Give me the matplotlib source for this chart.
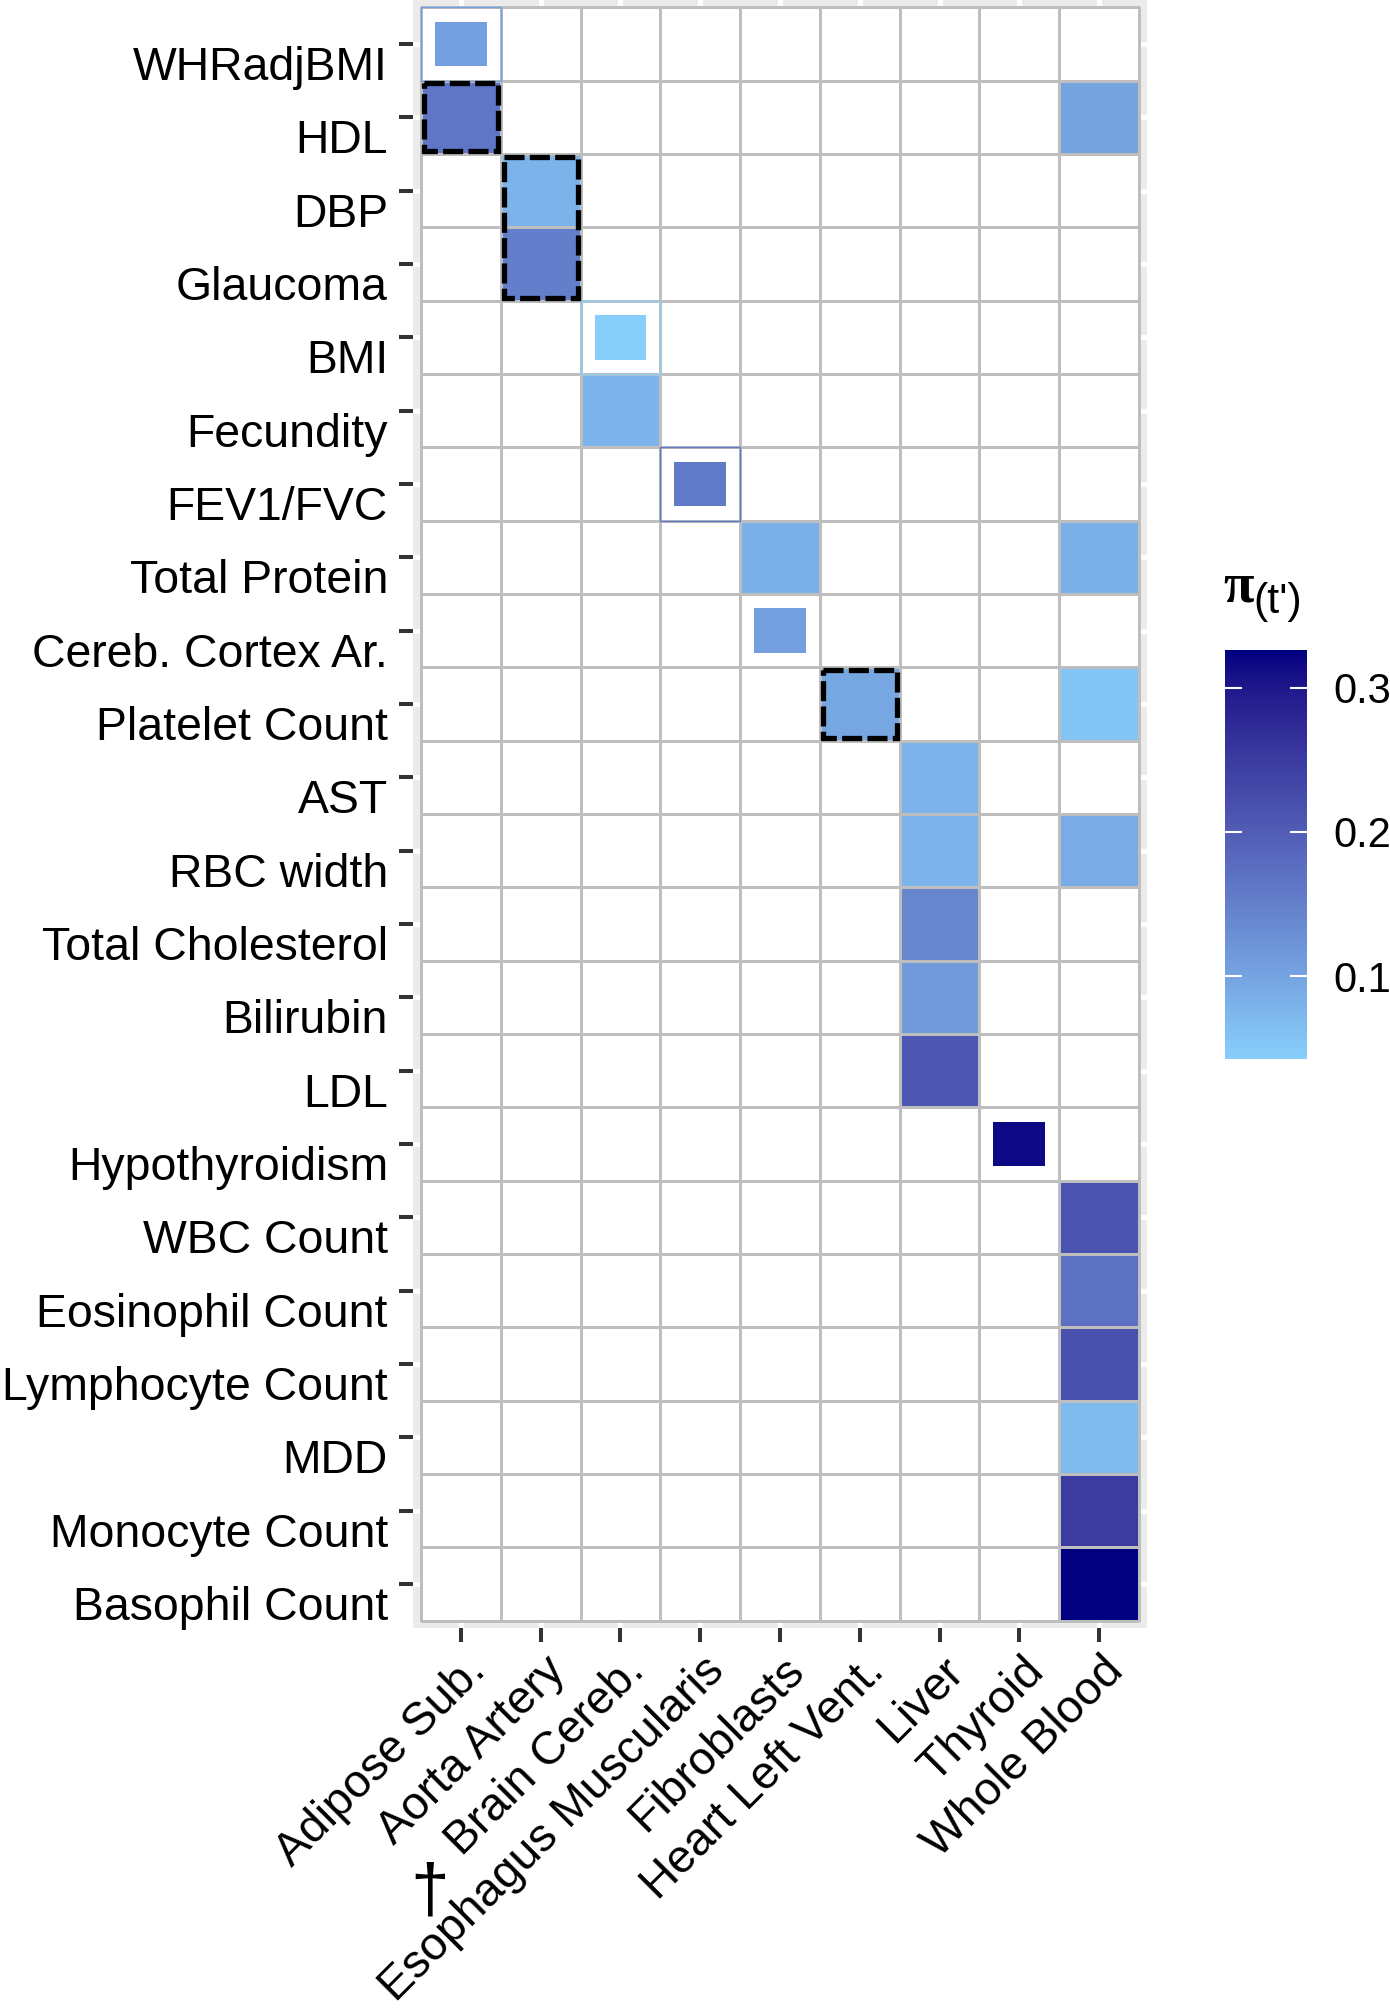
import numpy as np
import matplotlib
matplotlib.use("Agg")
import matplotlib.pyplot as plt
from matplotlib.colors import to_rgb, LinearSegmentedColormap, Normalize
from matplotlib.patches import Rectangle
from matplotlib.transforms import ScaledTranslation
import matplotlib.cm as cm

plt.rcParams['font.family'] = ['Liberation Sans', 'DejaVu Sans']

# rows (top to bottom) and columns
traits = ["WHRadjBMI", "HDL", "DBP", "Glaucoma", "BMI", "Fecundity", "FEV1/FVC",
          "Total Protein", "Cereb. Cortex Ar.", "Platelet Count", "AST", "RBC width",
          "Total Cholesterol", "Bilirubin", "LDL", "Hypothyroidism", "WBC Count",
          "Eosinophil Count", "Lymphocyte Count", "MDD", "Monocyte Count", "Basophil Count"]
tissues = ["Adipose Sub.", "Aorta Artery", "Brain Cereb.", "Esophagus Muscularis",
           "Fibroblasts", "Heart Left Vent.", "Liver", "Thyroid", "Whole Blood"]

# full tiles
tile_trait = ["HDL", "HDL", "DBP", "Glaucoma", "Fecundity", "Total Protein", "Total Protein",
              "Platelet Count", "Platelet Count", "AST", "RBC width", "RBC width",
              "Total Cholesterol", "Bilirubin", "LDL", "WBC Count", "Eosinophil Count",
              "Lymphocyte Count", "MDD", "Monocyte Count", "Basophil Count"]
tile_tissue = ["Adipose Sub.", "Whole Blood", "Aorta Artery", "Aorta Artery", "Brain Cereb.",
               "Fibroblasts", "Whole Blood", "Heart Left Vent.", "Whole Blood", "Liver",
               "Liver", "Whole Blood", "Liver", "Liver", "Liver", "Whole Blood",
               "Whole Blood", "Whole Blood", "Whole Blood", "Whole Blood", "Whole Blood"]
tile_value = [0.165, 0.099, 0.080, 0.153, 0.077, 0.084, 0.085, 0.095, 0.055, 0.080,
              0.079, 0.088, 0.141, 0.113, 0.207, 0.214, 0.171, 0.218, 0.069, 0.249, 0.326]

# small squares (the cell itself stays white)
small_trait = ["WHRadjBMI", "BMI", "FEV1/FVC", "Cereb. Cortex Ar.", "Hypothyroidism"]
small_tissue = ["Adipose Sub.", "Brain Cereb.", "Esophagus Muscularis", "Fibroblasts", "Thyroid"]
small_value = [0.105, 0.043, 0.157, 0.105, 0.317]
small_outlined = [True, True, True, False, False]

# dashed boxes: tissue, first trait, last trait
box_tissue = ["Adipose Sub.", "Aorta Artery", "Heart Left Vent."]
box_first = ["HDL", "DBP", "Platelet Count"]
box_last = ["HDL", "Glaucoma", "Platelet Count"]

vmin, vmax = 0.0425, 0.326


# ggplot-style gradient (interpolated in CIELAB)
def srgb_to_lab(c):
    c = np.asarray(c, float)
    lin = np.where(c <= 0.04045, c / 12.92, ((c + 0.055) / 1.055) ** 2.4)
    M = np.array([[0.4124, 0.3576, 0.1805], [0.2126, 0.7152, 0.0722], [0.0193, 0.1192, 0.9505]])
    xyz = lin @ M.T / np.array([0.95047, 1.0, 1.08883])
    f = np.where(xyz > 0.008856, np.cbrt(xyz), 7.787 * xyz + 16 / 116)
    return np.stack([116 * f[..., 1] - 16, 500 * (f[..., 0] - f[..., 1]), 200 * (f[..., 1] - f[..., 2])], -1)


def lab_to_srgb(lab):
    L, a, b = lab[..., 0], lab[..., 1], lab[..., 2]
    fy = (L + 16) / 116
    fx = fy + a / 500
    fz = fy - b / 200
    f = np.stack([fx, fy, fz], -1)
    xyz = np.where(f ** 3 > 0.008856, f ** 3, (f - 16 / 116) / 7.787) * np.array([0.95047, 1.0, 1.08883])
    Minv = np.linalg.inv(np.array([[0.4124, 0.3576, 0.1805], [0.2126, 0.7152, 0.0722], [0.0193, 0.1192, 0.9505]]))
    lin = xyz @ Minv.T
    lin = np.clip(lin, 0, 1)
    return np.where(lin <= 0.0031308, 12.92 * lin, 1.055 * lin ** (1 / 2.4) - 0.055)


t = np.linspace(0, 1, 256)[:, None]
lab_cols = srgb_to_lab(to_rgb("#87CEFA")) * (1 - t) + srgb_to_lab(to_rgb("#000080")) * t
cmap = LinearSegmentedColormap.from_list("pi", np.clip(lab_to_srgb(lab_cols), 0, 1))
cmap.set_bad("white")
norm = Normalize(vmin=vmin, vmax=vmax)

# matrix for the full tiles
grid = np.full((len(traits), len(tissues)), np.nan)
for tr, ti, v in zip(tile_trait, tile_tissue, tile_value):
    grid[traits.index(tr), tissues.index(ti)] = v

W, H = 1390, 2010
fig = plt.figure(figsize=(W / 100, H / 100), dpi=100)
ax = fig.add_axes([413 / W, 1 - 1628 / H, 734 / W, 1628 / H])
ax.set_facecolor("#EBEBEB")

ax.pcolormesh(np.arange(len(tissues) + 1) - 0.5, np.arange(len(traits) + 1) - 0.5,
              np.ma.masked_invalid(grid), cmap=cmap, norm=norm,
              edgecolors="#BEBEBE", linewidth=1.0, zorder=1)

for tr, ti, v, outl in zip(small_trait, small_tissue, small_value, small_outlined):
    r, c = traits.index(tr), tissues.index(ti)
    col = cmap(norm(v))
    if outl:
        ax.add_patch(Rectangle((c - 0.5, r - 0.5), 1, 1, facecolor="none",
                               edgecolor=col, linewidth=1.0, zorder=2))
    ax.add_patch(Rectangle((c - 0.325, r - 0.305), 0.65, 0.61, facecolor=col,
                           edgecolor="none", zorder=2))

for ti, a, b in zip(box_tissue, box_first, box_last):
    c = tissues.index(ti)
    r0, r1 = traits.index(a), traits.index(b)
    ax.add_patch(Rectangle((c - 0.5 + 0.035, r0 - 0.5 + 0.038), 1 - 0.07, r1 - r0 + 1 - 0.076,
                           facecolor="none", edgecolor="black", linewidth=3.8,
                           linestyle=(0, (3.8, 1.0)), zorder=3))

ax.set_xlim(-0.6, len(tissues) - 0.4)
ax.set_ylim(len(traits) - 0.4, -0.6)
ax.set_xticks(range(len(tissues)))
ax.set_yticks(range(len(traits)))
ax.set_yticklabels([])
ax.set_xticklabels(tissues, rotation=45, ha="right", va="top", rotation_mode="anchor", fontsize=33.4)
ax.grid(True, color="white", linewidth=3.5)
ax.set_axisbelow(True)
for s in ax.spines.values():
    s.set_visible(False)
ax.tick_params(axis="both", length=10, width=2.9, color="#333333")
ax.tick_params(axis="x", pad=5)
for lab in ax.get_xticklabels():
    lab.set_transform(lab.get_transform() + ScaledTranslation(0.02, 0, fig.dpi_scale_trans))

# y labels sit a bit below their ticks
ytr = ax.get_yaxis_transform()
for i, tr in enumerate(traits):
    ax.text(-25 / 734, i + 0.49, tr, transform=ytr, ha="right", va="baseline", fontsize=33.4)

# dagger next to Brain Cereb.
fig.text(430 / W, 1 - 1893 / H, "\u2020", ha="center", va="center", fontsize=50)

# colour bar
cax = fig.add_axes([1224.6 / W, 1 - 1059 / H, 82 / W, 409 / H])
cb = fig.colorbar(cm.ScalarMappable(norm=norm, cmap=cmap), cax=cax, ticks=[0.1, 0.2, 0.3])
cb.outline.set_visible(False)
cax.tick_params(direction="in", length=12, width=1.5, color="white", left=True, right=True,
                labelsize=30, pad=19)
cb.ax.set_yticklabels(["0.1", "0.2", "0.3"])
fig.text(1223 / W, 1 - 601 / H, "\u03c0", ha="left", va="baseline", fontsize=40, weight="bold",
         family=["Liberation Serif", "DejaVu Serif"])
fig.text(1253 / W, 1 - 613 / H, "(t')", ha="left", va="baseline", fontsize=31)

fig.savefig("out.png", dpi=100)
